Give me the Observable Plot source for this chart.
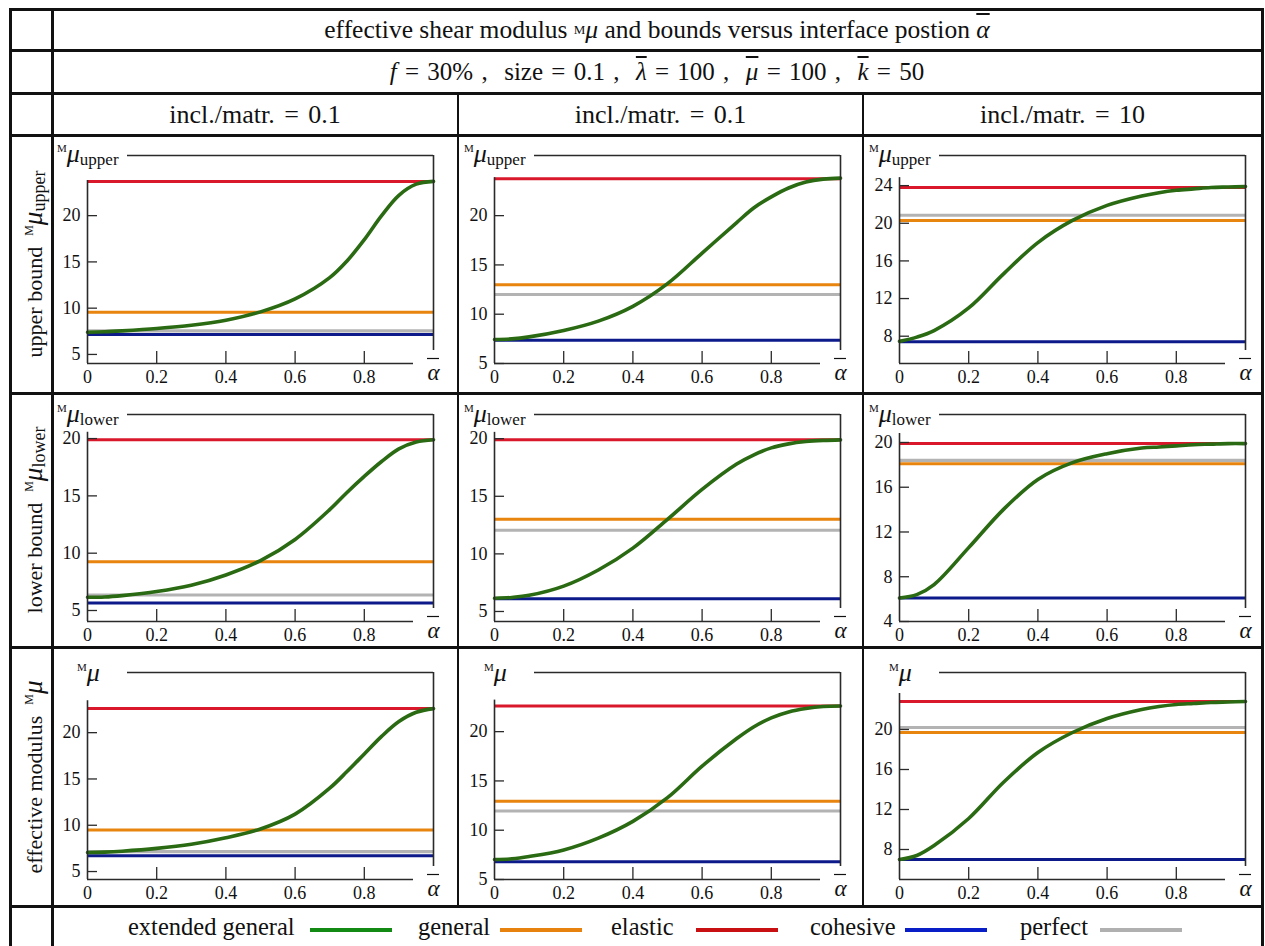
<!DOCTYPE html>
<html><head><meta charset="utf-8">
<script src="https://cdn.jsdelivr.net/npm/d3@7"></script>
<script src="https://cdn.jsdelivr.net/npm/@observablehq/plot@0.6"></script>
<style>
body{margin:0;background:#fff;font-family:"Liberation Serif","DejaVu Serif","Noto Serif",serif;color:#111;}
#root{position:relative;width:1265px;height:946px;overflow:hidden;background:#fff;}
.ln{position:absolute;background:#111;}
.cell{position:absolute;display:flex;align-items:center;justify-content:center;white-space:pre;}
.rl{position:absolute;white-space:nowrap;font-size:22px;transform:translate(-50%,-50%) rotate(-90deg);}
.ml{position:absolute;white-space:nowrap;line-height:26px;}
.ml i{font-size:26px;}
.ml .M{font-size:11px;position:relative;top:-10px;}
.ml .s{font-size:17px;position:relative;top:3px;}
.ov{text-decoration:overline;}
.lg{position:absolute;white-space:nowrap;font-size:24.5px;top:913px;}
.lgl{position:absolute;height:4px;top:928px;}
sup.m{font-size:13px;vertical-align:10px;}
</style></head><body><div id="root"></div>
<script>
// ---------- data ----------
const chartTitle = "effective shear modulus";
const colHeaders = ["incl./matr. = 0.1", "incl./matr. = 0.1", "incl./matr. = 10"];
const rowNames = ["upper bound", "lower bound", "effective modulus"];
const rowSubs = ["upper", "lower", ""];
const seriesNames = ["extended general", "general", "elastic", "cohesive", "perfect"];
const xTicks = [0, 0.2, 0.4, 0.6, 0.8];
const alpha = [0, 0.05, 0.1, 0.2, 0.3, 0.4, 0.5, 0.6, 0.7, 0.75, 0.8, 0.85, 0.9, 0.95, 1];

// extended general curves, one per column (incl./matr. 0.1, 0.1, 10)
const extGenUpper = [
  [7.4, 7.45, 7.55, 7.8, 8.15, 8.7, 9.6, 11.0, 13.3, 15.1, 17.4, 20.0, 22.2, 23.4, 23.7],
  [7.44, 7.5, 7.7, 8.35, 9.3, 10.8, 13.1, 16.2, 19.3, 20.8, 21.9, 22.8, 23.4, 23.7, 23.8],
  [7.45, 7.9, 8.6, 11.0, 14.6, 17.95, 20.3, 21.9, 22.9, 23.25, 23.5, 23.65, 23.8, 23.85, 23.9]
];
const extGenLower = [
  [6.15, 6.18, 6.3, 6.65, 7.2, 8.1, 9.35, 11.2, 13.8, 15.3, 16.7, 18.0, 19.1, 19.7, 19.9],
  [6.15, 6.22, 6.4, 7.2, 8.6, 10.5, 13.0, 15.6, 17.8, 18.6, 19.2, 19.55, 19.75, 19.85, 19.9],
  [6.1, 6.4, 7.3, 10.6, 14.0, 16.7, 18.2, 19.0, 19.5, 19.6, 19.7, 19.8, 19.85, 19.9, 19.9]
];
const extGenEffective = [
  [7.05, 7.1, 7.2, 7.5, 7.95, 8.65, 9.6, 11.2, 14.0, 15.8, 17.7, 19.6, 21.2, 22.2, 22.6],
  [7.03, 7.1, 7.33, 8.0, 9.2, 10.9, 13.3, 16.5, 19.3, 20.5, 21.4, 22.0, 22.35, 22.55, 22.6],
  [7.0, 7.4, 8.4, 11.1, 14.7, 17.7, 19.7, 21.1, 22.0, 22.3, 22.5, 22.6, 22.7, 22.75, 22.8]
];
// constant bounds [row][column]
const general  = [[9.55, 13.0, 20.3], [9.25, 13.0, 18.1], [9.5, 12.95, 19.7]];
const elastic  = [[23.7, 23.75, 23.8], [19.9, 19.9, 19.9], [22.6, 22.6, 22.8]];
const cohesive = [[7.15, 7.35, 7.4], [5.65, 6.1, 6.1], [6.7, 6.8, 7.0]];
const perfect  = [[7.55, 12.0, 20.85], [6.35, 12.05, 18.4], [7.15, 11.95, 20.2]];
// axis ranges
const yRange = [
  [[4.02, 26.5], [5, 26.1], [5.1, 27.2]],
  [[4.04, 22.1], [4.13, 22.1], [4, 22.5]],
  [[4.14, 26.5], [5, 26], [5, 25.7]]
];
const yAxisTop = [[23.8, 23.85, 24.85], [20.55, 20.55, 20.8], [23.45, 23.2, 23.6]];
const yTicks = [
  [[5, 10, 15, 20], [5, 10, 15, 20], [8, 12, 16, 20, 24]],
  [[5, 10, 15, 20], [5, 10, 15, 20], [4, 8, 12, 16, 20]],
  [[5, 10, 15, 20], [5, 10, 15, 20], [8, 12, 16, 20]]
];

// ---------- styles / layout ----------
const FONT = "Liberation Serif, DejaVu Serif, Noto Serif, serif";
const C = {green: "#2a6a12", orange: "#e8850f", red: "#d9182b", blue: "#0c1a8a", gray: "#b3b3b3"};
const LC = {green: "#138a13", orange: "#e8820e", red: "#c80f12", blue: "#0a1ec8", gray: "#b0b0b0"};
const plotLeft = [87, 494, 899], plotW = 346;
const plotTop = [155, 414, 672], plotBottom = [363, 621, 879];
const ML = 45, MR = 30, MT = 10, MB = 30;
const root = document.getElementById("root");

function add(html) { root.insertAdjacentHTML("beforeend", html); }

// headers
add(`<div class="cell" style="left:52px;width:1210px;top:10px;height:40px;font-size:25.5px">${chartTitle} <sup class="m">M</sup><i>μ</i> and bounds versus interface postion <span class="ov"><i>α</i></span></div>`);
add(`<div class="cell" style="left:52px;width:1210px;top:51px;height:42px;font-size:25px;word-spacing:2px"><i>f</i> = 30% ,  size = 0.1 ,  <span class="ov"><i>λ</i></span> = 100 ,  <span class="ov"><i>μ</i></span> = 100 ,  <span class="ov"><i>k</i></span> = 50</div>`);
const colX = [52, 458, 863, 1262];
colHeaders.forEach((h, i) => add(`<div class="cell" style="left:${colX[i]}px;width:${colX[i+1]-colX[i]}px;top:94px;height:41px;font-size:26px;word-spacing:3px">${h}</div>`));
const rowY = [135, 393, 647, 906];
rowNames.forEach((n, i) => {
  const sub = rowSubs[i] ? `<span style="font-size:18px;position:relative;top:3px">${rowSubs[i]}</span>` : "";
  add(`<div class="rl" style="left:33px;top:${(rowY[i]+rowY[i+1])/2}px">${n}&nbsp; <span style="font-size:12px;position:relative;top:-9px">M</span><i style="font-size:27px">μ</i>${sub}</div>`);
});

// panels
const egRows = [extGenUpper, extGenLower, extGenEffective];
for (let r = 0; r < 3; r++) {
  for (let c = 0; c < 3; c++) {
    const [ymin, ymax] = yRange[r][c];
    const eg = egRows[r][c];
    const curve = alpha.map((a, i) => ({a, v: eg[i]}));
    const ph = plotBottom[r] - plotTop[r];
    const axis = {stroke: "#2a2a2a", strokeWidth: 1.6};
    const svg = Plot.plot({
      width: plotW + ML + MR, height: ph + MT + MB,
      marginLeft: ML, marginRight: MR, marginTop: MT, marginBottom: MB,
      x: {domain: [0, 1], axis: null},
      y: {domain: [ymin, ymax], axis: null},
      style: {fontFamily: FONT, fontSize: "18px", background: "transparent", overflow: "visible", color: "#111"},
      marks: [
        Plot.ruleY([perfect[r][c]], {stroke: C.gray, strokeWidth: 3.2}),
        Plot.ruleY([cohesive[r][c]], {stroke: C.blue, strokeWidth: 3}),
        Plot.ruleY([general[r][c]], {stroke: C.orange, strokeWidth: 3}),
        Plot.ruleY([elastic[r][c]], {stroke: C.red, strokeWidth: 3}),
        Plot.line(curve, {x: "a", y: "v", stroke: C.green, strokeWidth: 3.6, curve: "catmull-rom"}),
        // axes
        Plot.ruleX([0], {y1: () => yAxisTop[r][c], y2: () => ymin, ...axis}),
        Plot.ruleY([ymin], {x1: () => 0, x2: () => 1, insetRight: 20, ...axis}),
        Plot.ruleY([ymax], {x1: () => 0, x2: () => 1, insetLeft: 40, ...axis}),
        Plot.ruleX([1], {y1: () => ymax, y2: () => ymin, insetBottom: 13, ...axis}),
        Plot.ruleX(xTicks.filter(t => t > 0), {y1: () => ymin, y2: () => ymin, insetTop: -12, stroke: "#2a2a2a", strokeWidth: 1.3}),
        Plot.ruleY(yTicks[r][c], {x1: () => 0, x2: () => 0, insetRight: -10, stroke: "#2a2a2a", strokeWidth: 1.3}),
        Plot.text(xTicks, {x: d => d, y: () => ymin, dy: 14, text: d => String(d), fontSize: 18, fill: "#111"}),
        Plot.text(yTicks[r][c], {x: () => 0, y: d => d, dx: -7, textAnchor: "end", text: d => String(d), fontSize: 18, fill: "#111"}),
        // x-axis label: alpha with overbar
        Plot.text(["α"], {x: () => 1, y: () => ymin, dy: 9, fontSize: 23, fontStyle: "italic", fill: "#111"}),
        Plot.ruleY([ymin], {x1: () => 1, x2: () => 1, insetLeft: -6, insetRight: -6, dy: -5, stroke: "#111", strokeWidth: 1.2})
      ]
    });
    svg.style.position = "absolute";
    svg.style.left = (plotLeft[c] - ML) + "px";
    svg.style.top = (plotTop[r] - MT) + "px";
    root.appendChild(svg);
    // axis label (M mu sub)
    const sub = rowSubs[r];
    const lx = sub ? plotLeft[c] - 30 : plotLeft[c] - 10;
    const base = plotTop[r] + 7 + r;
    add(`<div class="ml" style="left:${lx}px;top:${base - 21}px"><span class="M">M</span><i>μ</i>${sub ? `<span class="s">${sub}</span>` : ""}</div>`);
  }
}

// grid lines
function hl(y, x1, x2, t = 3) { add(`<div class="ln" style="left:${x1}px;top:${y - t/2}px;width:${x2 - x1}px;height:${t}px"></div>`); }
function vl(x, y1, y2, t = 3) { add(`<div class="ln" style="left:${x - t/2}px;top:${y1}px;width:${t}px;height:${y2 - y1}px"></div>`); }
[9, 50, 93, 135, 393, 647, 906].forEach(y => hl(y, 9, 1264));
vl(10, 8, 946); vl(52, 8, 946); vl(1262, 8, 946);
vl(458, 93, 906, 2.5); vl(863, 93, 906, 2.5);

// legend
const legendX = [[128, 310], [418, 500], [611, 696], [810, 905], [1020, 1100]];
const legendC = [LC.green, LC.orange, LC.red, LC.blue, LC.gray];
seriesNames.forEach((n, i) => {
  add(`<div class="lg" style="left:${legendX[i][0]}px">${n}</div>`);
  add(`<div class="lgl" style="left:${legendX[i][1]}px;width:82px;background:${legendC[i]}"></div>`);
});
</script></body></html>
